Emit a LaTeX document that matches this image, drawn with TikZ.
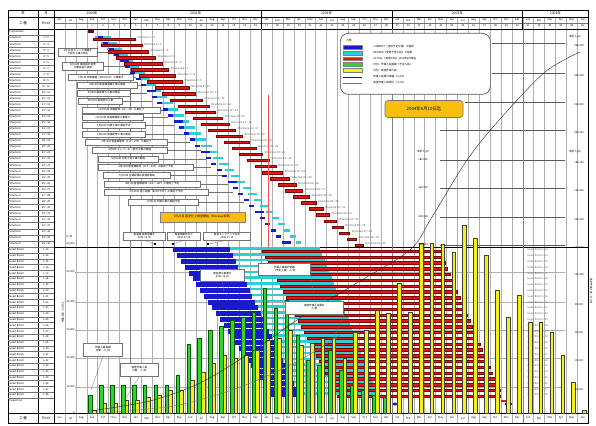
\documentclass[tikz,border=0pt]{standalone}
\usepackage{fontspec}
\setmainfont{Noto Sans CJK JP}
\usetikzlibrary{positioning}

\definecolor{planblue}{RGB}{25,25,205}
\definecolor{revcyan}{RGB}{45,205,210}
\definecolor{actred}{RGB}{220,25,25}
\definecolor{actdark}{RGB}{130,0,0}
\definecolor{mangreen}{RGB}{45,215,45}
\definecolor{manyellow}{RGB}{245,240,25}
\definecolor{gridgray}{RGB}{175,175,175}
\definecolor{dategold}{RGB}{248,192,10}

\newcommand{\monthname}[1]{\ifcase#1 Jan\or Feb\or Mar\or Apr\or May\or Jun\or Jul\or Aug\or Sep\or Oct\or Nov\or Dec\fi}

\tikzset{
  tinytext/.style={font=\fontsize{2.6}{3}\selectfont, inner sep=0.2pt},
  smalltext/.style={font=\fontsize{3.4}{4}\selectfont, inner sep=0.3pt},
  gridline/.style={draw=gridgray, line width=0.25pt},
  rowline/.style={draw=black!55, line width=0.2pt},
  frameline/.style={draw=black, line width=0.5pt},
  memo/.style={tinytext, draw=black!55, fill=white, line width=0.8pt, align=center,
    inner xsep=0.8pt, inner ysep=1.3pt, minimum height=6pt, anchor=west},
  leader/.style={draw=black!55, line width=0.25pt},
  manbar/.style={fill=mangreen, draw=green!35!black, line width=0.2pt},
  actbar/.style={fill=manyellow, draw=black!75, line width=0.3pt},
}

\begin{document}
\begin{tikzpicture}[x=1pt,y=-1pt]
\useasboundingbox (0,0) rectangle (596,425);
\fill[white] (0,0) rectangle (596,425);

% month grid
\foreach \i in {0,...,49}
  \draw[gridline] (54+10.9*\i,17) -- (54+10.9*\i,423);
\foreach \yy in {387,358,330,302,272}
  \draw[gridline] (75,\yy) -- (565,\yy);
\foreach \yy in {130,160,188,217,245}
  \draw[black!65,line width=0.3pt] (440,\yy) -- (565,\yy);
\draw[black!65,line width=0.3pt] (465,102) -- (565,102);
\draw[black!65,line width=0.3pt] (492,73) -- (565,73);
\draw[black!65,line width=0.3pt] (492,43) -- (565,43);

% frame and header
\draw[frameline] (8,10) rectangle (588,423);
\draw[frameline] (8,17) -- (588,17);
\draw[rowline] (54,23) -- (588,23);
\draw[frameline] (8,29) -- (588,29);
\draw[frameline] (8,247) -- (588,247);
\draw[frameline] (8,413) -- (588,413);
\draw[frameline] (38,10) -- (38,423);
\draw[frameline] (54,10) -- (54,423);
\foreach \i in {7,19,31,43}{
  \draw[frameline] (54+10.9*\i,10) -- (54+10.9*\i,29);
  \draw[black!50,line width=0.3pt] (54+10.9*\i,29) -- (54+10.9*\i,423);
}

\node[smalltext] (y2000) at (54+10.9*3.5,13.5) {2000年};
\node[smalltext] (y2001) at (54+10.9*13,13.5) {2001年};
\node[smalltext] (y2002) at (54+10.9*25,13.5) {2002年};
\node[smalltext] (y2003) at (54+10.9*37,13.5) {2003年};
\node[smalltext] (y2004) at (54+10.9*46,13.5) {2004年};

\foreach \i in {0,...,48}{
  \pgfmathtruncatemacro\mm{mod(\i+5,12)}
  \pgfmathtruncatemacro\nn{\i-2}
  \node[tinytext] (hm\i) at (54+10.9*\i+5.45,20) {\monthname{\mm}};
  \node[tinytext] (hn\i) at (54+10.9*\i+5.45,26) {\ifnum\i<3 -\else\nn\fi};
  \node[tinytext] (bm\i) at (54+10.9*\i+5.45,418) {\monthname{\mm}};
}

\node[smalltext] (hdA) at (23,13.5) {年};
\node[smalltext] (hdB) at (46,13.5) {月};
\node[smalltext] (hdC) at (23,23) {工\,種};
\node[smalltext] (hdD) at (46,23) {Floor};
\node[smalltext] (ftA) at (23,418) {工\,種};
\node[smalltext] (ftB) at (46,418) {Floor};

% left columns
\node[tinytext,anchor=west] (prep) at (9,32) {Preparation};
\draw[rowline] (8,35) -- (54,35);
\foreach \sr in {1,...,35}{
  \pgfmathsetmacro\yc{35+6.05*(\sr-0.5)}
  \pgfmathtruncatemacro\sn{\sr+1}
  \node[tinytext,anchor=west] (st\sr) at (9,\yc) {Structure};
  \node[tinytext] (sf\sr) at (46,\yc) {\sr〜\sn};
  \draw[rowline] (8,\yc+3.025) -- (54,\yc+3.025);
}
\foreach \i in {0,...,25}{
  \pgfmathsetmacro\yc{247+5.8*(\i+0.5)}
  \pgfmathtruncatemacro\fl{\i+13}
  \node[tinytext,anchor=west] (gr\i) at (9,\yc) {Guest Room};
  \node[tinytext] (gf\i) at (46,\yc) {L-\fl};
  \node[tinytext,anchor=west,text=black!60] (gl\i) at (527,\yc) {Guest Room L-\fl};
  \draw[rowline] (8,\yc+2.9) -- (54,\yc+2.9);
}
\node[tinytext,anchor=west] (insp) at (9,401) {Inspection};

% structure schedule
\fill[actdark] (88,30.5) rectangle (94,33.5);
\foreach \sr in {1,...,35}{
  \pgfmathsetmacro\yc{35+6.05*(\sr-0.5)}
  \pgfmathsetmacro\bxs{98+5.4*(\sr-1)}
  \pgfmathsetmacro\bxl{ifthenelse(mod(\sr,5)==0,9,5)}
  \pgfmathsetmacro\cxs{95+5.9*(\sr-1)}
  \pgfmathsetmacro\cxl{16-0.3*(\sr-1)}
  \pgfmathsetmacro\rxs{93+7.7*(\sr-1)}
  \pgfmathsetmacro\rxl{42-(\sr-1)}
  \pgfmathtruncatemacro\sn{\sr+1}
  \fill[revcyan] (\cxs,\yc-2.4) rectangle (\cxs+\cxl,\yc-0.1);
  \fill[planblue] (\bxs,\yc-2.4) rectangle (\bxs+\bxl,\yc-0.1);
  \filldraw[fill=actred,draw=actdark,line width=0.2pt] (\rxs,\yc+0.1) rectangle (\rxs+\rxl,\yc+2.5);
  \coordinate (bb\sr) at (\bxs,\yc-1.2);
  \node[tinytext,anchor=west,text=black!70] (sl\sr) at (\rxs+\rxl+2,\yc) {Structure \sr〜\sn};
}
\draw[red!70,line width=0.5pt] (268,95) -- (268,247);

% guest room schedule
\foreach \i in {0,...,25}{
  \pgfmathsetmacro\yc{247+5.8*(\i+0.5)}
  \pgfmathsetmacro\bxs{173+3.9*\i}
  \pgfmathsetmacro\bxe{230+2.8*\i}
  \pgfmathsetmacro\cxe{320+2.3*\i}
  \pgfmathsetmacro\rxs{262+3*\i}
  \pgfmathsetmacro\rxe{min(440+2.5*\i,500)}
  \fill[revcyan] (\bxe,\yc-2.5) rectangle (\cxe,\yc-0.1);
  \fill[planblue] (\bxs,\yc-2.5) rectangle (\bxe,\yc+2.4);
  \filldraw[fill=actred,draw=actdark,line width=0.3pt] (\rxs,\yc+0.1) rectangle (\rxe,\yc+2.5);
}
\fill[actred] (501,399.5) rectangle (509,402);
\fill[actdark] (505,402.5) rectangle (512,405);
\fill[planblue] (395,404) ellipse (2.5pt and 1.5pt);

% manpower per month
\foreach \i/\tp in {3/395,4/385,5/385,6/385,7/385,8/385,9/385,10/385,11/375,12/344,13/338,14/330,15/326,16/320,17/317,18/312,19/288,20/308,21/300,22/335,23/360,24/365,25/350,26/370,27/385,28/390,29/395,30/397}
  \filldraw[manbar] (54+10.9*\i+1.8,413) rectangle (54+10.9*\i+5.3,\tp);
\foreach \i/\tp in {3/410,4/403,5/403,6/400,7/400,8/397,9/395,10/390,11/390,12/380,13/372,14/363,15/355,16/358,17/355,18/350,19/340,20/338,21/330,22/345,23/343,24/338,25/337,26/358,27/332,28/330,29/310,30/313,31/283,32/312,33/243,34/243,35/244,36/252,37/225,38/238,39/255,40/290,41/317,42/295,43/322,44/322,45/332,46/355,47/382,48/410}
  \filldraw[actbar] (54+10.9*\i+5.3,413) rectangle (54+10.9*\i+9,\tp);

% cumulative curves
\draw[black!85,line width=0.4pt] plot[smooth] coordinates {(90,411) (150,401) (200,383) (250,353) (300,318) (355,284) (410,250) (432,217) (467,160) (500,119) (545,72) (580,52)};
\draw[black!55,line width=0.4pt] plot[smooth] coordinates {(90,414) (167,407) (210,397) (253,382) (300,360) (340,335)};

% axes
\foreach \yy/\val [count=\q] in {413/0,387/{10,000},358/{20,000},330/{30,000},302/{40,000},272/{50,000},243.5/{60,000}}
  \node[tinytext,anchor=east] (la\q) at (75,\yy) {\val};
\node[tinytext] (lahd) at (69,237) {人/日};
\foreach \yy/\val [count=\q] in {387/{20,000},358/{40,000},330/{60,000},302/{80,000},272/{100,000},245/{120,000},217/{140,000},188/{160,000},160/{180,000},130/{200,000},102/{220,000},73/{240,000},43/{260,000}}
  \node[tinytext] (ra\q) at (579,\yy+2.5) {\val};
\node[tinytext] (rahd) at (575,37) {累計人/日};
\foreach \yy/\val [count=\q] in {160/{180,000},188/{160,000},217/{140,000},245/{120,000}}
  \node[tinytext] (ma\q) at (423,\yy) {\val};
\node[tinytext] (mahd) at (423,152) {累計人/日};
\node[tinytext] (rahdb) at (575,152) {累計人/日};
\node[tinytext,rotate=-90] (rvt) at (591,292) {累計作業人員（人/日）};
\node[tinytext,rotate=90] (lvt) at (63,312) {作業人員（人/日）};

% memos on the structure schedule
\foreach \q/\xl/\yc/\bw/\row/\txt in {
  1/58/52.5/39/3/{3月15日 ピット工事着手\\予定外工事の発生},
  2/62/66.5/41/6/{5月10日 構造設計変更\\工期延長の承認},
  3/68/77.5/65/8/{7月1日 本館基礎（MOCKUP）工事着手},
  4/77/85/60/9/{8月20日 客室棟基礎工事の開始},
  5/77/93/53/10/{9月5日 鉄骨建方工事の開始},
  6/78/101/44/11/{10月1日 屋根防水工事},
  7/82/110/78/13/{11月15日 本館躯体（2F〜4F）工事完了},
  8/82/117.5/61/14/{12月10日 客室棟躯体工事着工},
  9/82/125.5/63/15/{1月20日 外壁工事の開始予定},
  10/82/134.5/63/17/{2月15日 設備配管工事の開始},
  11/85/142/82/18/{3月10日 客室棟躯体（11F〜20F）工事完了},
  12/92/150/75/20/{4月5日 エレベーター据付工事の開始},
  13/98/159/60/21/{5月20日 内装下地工事の開始},
  14/98/167/95/22/{6月15日 客室棟躯体（21F〜30F）工事完了予定},
  15/103/175.5/67/24/{7月10日 空調設備の試運転開始},
  16/104/184/96/25/{8月1日 客室棟躯体（31F〜36F）工事完了予定},
  17/104/192/104/26/{9月15日 屋上設備（ROOFTOP）工事完了予定},
  18/128/202/70/28/{10月1日 外構工事の開始予定}}{
  \node[memo,minimum width=\bw pt] (memo\q) at (\xl,\yc) {\txt};
  \draw[leader] (memo\q.east) -- (memo\q.east -| bb\row);
}
\node[memo,fill=dategold,draw=black!50,minimum width=85pt,minimum height=10pt,font=\fontsize{3}{3.5}\selectfont] (mockup) at (160,217) {7月25日 客室仕上検査開始（Mockup承認）};

\node[memo,minimum width=42pt] (cbA) at (123,236) {客室棟 基準階着手\\2001.10.05};
\node[memo,minimum width=33pt] (cbB) at (167,236) {客室棟躯体完了\\2002.07.20};
\node[memo,minimum width=47pt] (cbC) at (203,236) {客室モックアップ完成\\2002.11.15};
\node[fill=black,inner sep=0pt,minimum size=2pt] (mkA) at (155,244) {};
\node[fill=black,inner sep=0pt,minimum size=2pt] (mkB) at (173,244) {};
\node[fill=black,inner sep=0pt,minimum size=2pt] (mkC) at (208,244) {};
\draw[leader] (cbA.south) -- (mkA);
\draw[leader] (cbB.south) -- (mkB);
\draw[leader] (cbC.south) -- (mkC);

% memos on the manpower chart
\coordinate (pA) at (91,390);
\coordinate (pB) at (124,401);
\coordinate (pC) at (224,292);
\coordinate (pD) at (316,309);
\coordinate (pE) at (333,340);
\node[memo,minimum width=39pt,minimum height=13pt] (cmA) at (83,349.5) {作業人員実績\\月間　人/日};
\node[memo,minimum width=38pt,minimum height=13pt] (cmB) at (120,369.5) {実施作業人員\\月間　人/日};
\node[memo,minimum width=44pt,minimum height=12pt] (cmC) at (200,275) {客室棟工事着手\\2001.05.03};
\node[memo,minimum width=52pt,minimum height=12pt] (cmD) at (258,269) {作業人員累計実績\\（予定人員）人/日};
\node[memo,minimum width=58pt,minimum height=13pt] (cmE) at (285,307.5) {実施作業人員累計\\人/日};
\draw[leader] (cmA.south) -- (pA);
\draw[leader] (cmB.south) -- (pB);
\draw[leader] (cmC.south) -- (pC);
\draw[leader] (cmD.south east) -- (pD);
\draw[leader] (cmE.south east) -- (pE);

% legend
\node[draw=black!65,line width=0.7pt,rounded corners=8pt,fill=white,minimum width=150pt,minimum height=61pt,anchor=north west] (legend) at (340,33) {};
\node[tinytext,anchor=west] (lgtitle) at (346,41) {凡例};
\foreach \q/\yy/\col/\txt in {1/47/planblue/{CURRENT（当初予定工程）工程表},2/52.8/revcyan/{REVISED（変更予定工程）工程表},3/58.6/actred/{ACTUAL（実施工程）2004年6月現在},4/64.4/mangreen/{月別・作業人員実績（予定人員）},5/70.2/manyellow/{月別・実施作業人員}}{
  \filldraw[fill=\col,draw=black!50,line width=0.2pt] (343,\yy-1.9) rectangle (362,\yy+1.9);
  \node[tinytext,anchor=west] (lg\q) at (373,\yy) {\txt};
}
\coordinate (lgA) at (343,77);
\coordinate (lgB) at (343,83);
\draw[black!85,line width=0.5pt] (lgA) -- ++(19,0);
\draw[black!55,line width=0.5pt] (lgB) -- ++(19,0);
\node[tinytext,anchor=west] (lg6) at (373,77) {作業人員累計実績（人/日）};
\node[tinytext,anchor=west] (lg7) at (373,83) {実施作業人員累計（人/日）};

\node[draw=black!55,line width=0.6pt,fill=dategold,rounded corners=3pt,minimum width=78pt,minimum height=17pt,font=\fontsize{4.4}{5}\selectfont] (datebox) at (424,109) {2004年6月10日迄};

\end{tikzpicture}
\end{document}
